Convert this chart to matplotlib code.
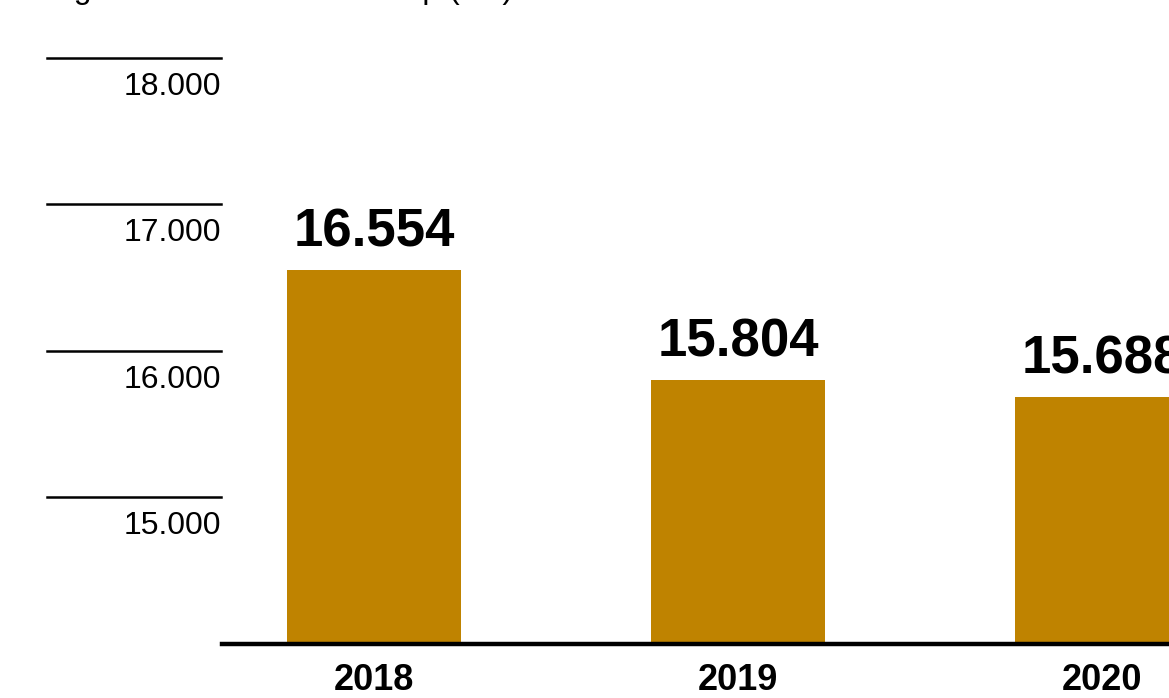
import numpy as np
import matplotlib.pyplot as plt
import matplotlib.transforms as mtransforms

plt.rcParams['font.family'] = ['Liberation Sans', 'DejaVu Sans']

jaren = ['2018', '2019', '2020']
waarden = [16554, 15804, 15688]
labels = ['16.554', '15.804', '15.688']
rasterwaarden = [15000, 16000, 17000, 18000]
rasterlabels = ['15.000', '16.000', '17.000', '18.000']
titel = 'Ingeschreven leden totaal p (x 1)'

kleur = '#BF8300'

fig = plt.figure(figsize=(11.69, 6.98), dpi=100)
ax = fig.add_axes([222 / 1169, 54 / 698, 1 - 222 / 1169, 1 - 54 / 698])

posities = np.arange(len(jaren))
ax.bar(posities, waarden, width=0.478, color=kleur, zorder=2)

for x, w, t in zip(posities, waarden, labels):
    ax.annotate(t, (x, w), xytext=(0, 9), textcoords='offset points',
                ha='center', va='bottom', fontsize=38, fontweight='bold')

ax.set_ylim(14000, 18395)
ax.set_xlim(-0.4176, 2.184)

# korte rasterlijnen links van de grafiek
trans = mtransforms.blended_transform_factory(fig.transFigure, ax.transData)
for v, t in zip(rasterwaarden, rasterlabels):
    ax.plot([47 / 1169, 221 / 1169], [v, v], color='black', lw=1.8,
            transform=trans, clip_on=False)
    ax.annotate(t, (221 / 1169, v), xycoords=trans, xytext=(0, -10),
                textcoords='offset points', ha='right', va='top',
                fontsize=23, annotation_clip=False)

ax.axhline(14000, color='black', lw=3.2, clip_on=False, zorder=3)

ax.set_xticks(posities)
ax.set_xticklabels(jaren, fontsize=26, fontweight='bold')
ax.tick_params(axis='x', length=0, pad=14)
ax.set_yticks([])
for s in ax.spines.values():
    s.set_visible(False)

fig.text(47 / 1169, 1.003, titel, fontsize=23,
         ha='left', va='baseline')

fig.savefig('out.png', dpi=100)
